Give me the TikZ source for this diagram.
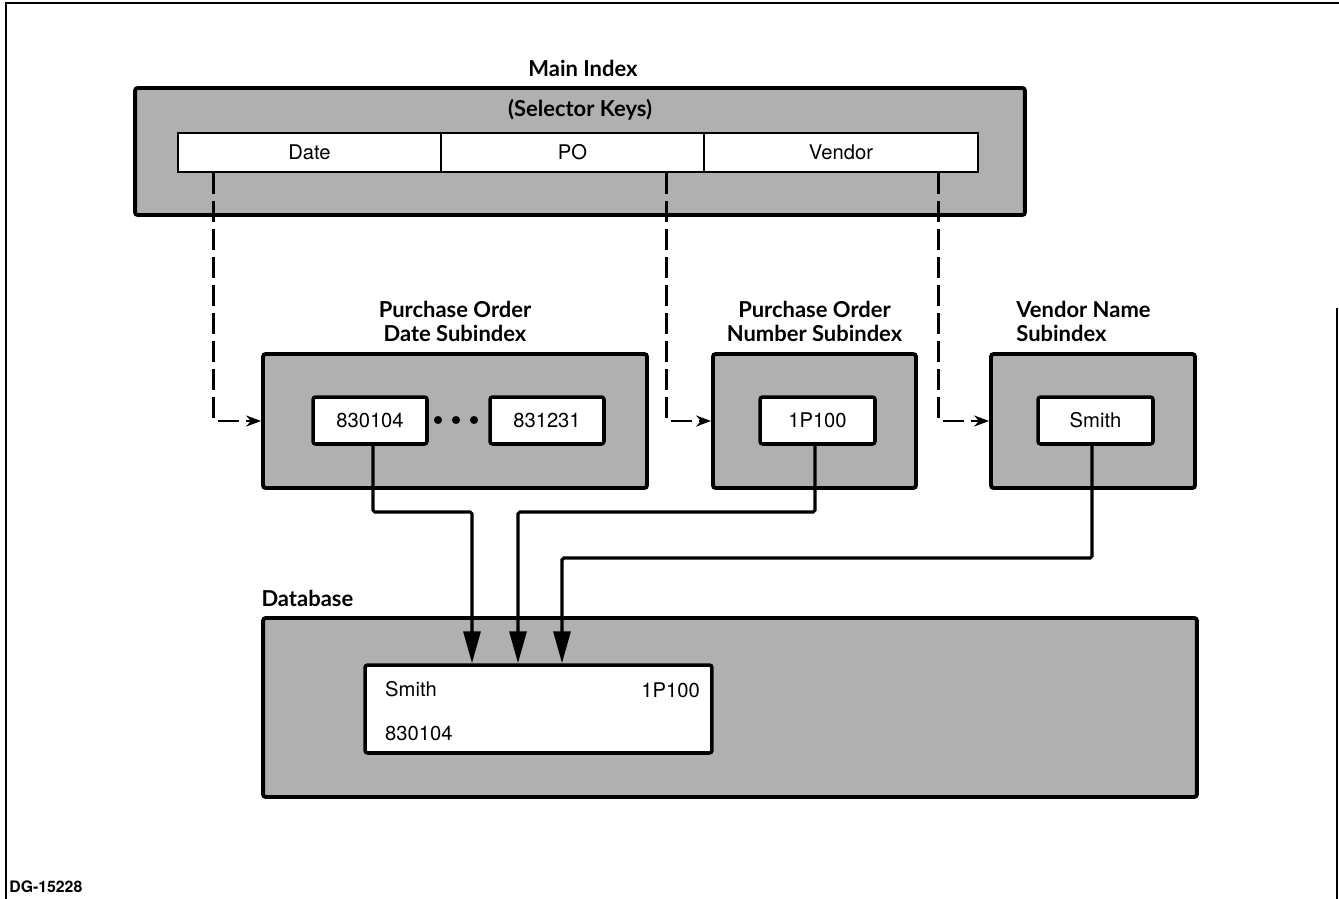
\documentclass[tikz,border=0pt]{standalone}
\usepackage{fontspec}
\setmainfont{TeX Gyre Heros}
\newfontfamily\titlefont{Lato}
\usepackage{tikz}
\usetikzlibrary{arrows.meta,positioning,calc}
\definecolor{screen}{gray}{0.69}

\begin{document}
\begin{tikzpicture}[
  x=0.02cm, y=-0.02cm,
  font=\fontsize{11.5}{13}\selectfont,
  ttl/.style={font=\titlefont\bfseries\fontsize{12.5}{13.6}\selectfont, align=center, inner sep=0pt},
  gbox/.style={draw, fill=screen, line width=2.2pt, rounded corners=1.5pt, inner sep=0pt},
  wbox/.style={draw, fill=white, line width=2pt, rounded corners=1.5pt, inner sep=0pt, minimum height=0.94cm, minimum width=2.28cm},
  keybox/.style={draw, fill=white, line width=1.6pt, inner sep=0pt, minimum height=0.78cm},
  dsh/.style={-{Stealth[length=3mm, width=2.2mm]}, line width=1.3pt, dash pattern=on 0.42cm off 0.14cm},
  big/.style={-{Triangle[length=6.4mm, width=3.4mm]}, line width=1.8pt, rounded corners=1pt},
]
\useasboundingbox (0,0) rectangle (1339,899);
% ---------------- frame ----------------
\draw[line width=0.9pt] (1339,3) -- (6,3) -- (6,899);
\draw[line width=0.9pt] (1337,308) -- (1337,899);
% ---------------- main index ----------------
\node[ttl] (mainttl) at (583,68) {Main Index};
\node[gbox, minimum width=17.8cm, minimum height=2.54cm] (main) at (580,151.5) {};
\node[ttl] (selttl) at (580,110) {(Selector Keys)};
\node[keybox, minimum width=5.26cm] (kdate) at (309.5,152.5) {Date};
\node[keybox, minimum width=5.26cm] (kpo) at (572.5,152.5) {PO};
\node[keybox, minimum width=5.48cm] (kvend) at (841,152.5) {Vendor};
% ---------------- subindexes ----------------
\node[gbox, minimum width=7.68cm, minimum height=2.68cm] (dsub) at (455,421) {};
\node[ttl, above=0.2cm of dsub] (dttl) {Purchase Order\\Date Subindex};
\node[wbox] (d1) at (370,420.5) {830104};
\node[wbox] (d2) at (547,420.5) {831231};
\foreach \xx in {438,456,474}
  \fill (\xx,420) circle (2.3pt);
\node[gbox, minimum width=4.06cm, minimum height=2.68cm] (nsub) at (814.5,421) {};
\node[ttl, above=0.2cm of nsub] (nttl) {Purchase Order\\Number Subindex};
\node[wbox, minimum width=2.3cm] (n1) at (817.5,420.5) {1P100};
\node[gbox, minimum width=4.08cm, minimum height=2.68cm] (vsub) at (1093,421) {};
\node[ttl, align=left, anchor=south west] (vttl) at ([xshift=0.54cm, yshift=0.2cm]vsub.north west) {Vendor Name\\Subindex};
\node[wbox, minimum width=2.3cm] (v1) at (1095.5,420.5) {Smith};
% ---------------- database ----------------
\node[gbox, minimum width=18.68cm, minimum height=3.58cm] (db) at (730,707.5) {};
\node[ttl, anchor=south west] (dbttl) at ([yshift=0.18cm]db.north west) {Database};
\node[wbox, minimum width=6.94cm, minimum height=1.76cm] (rec) at (538.5,709) {};
\node[anchor=west] (rname) at (379,689) {Smith};
\node[anchor=east] (rpo) at (706,690) {1P100};
\node[anchor=west] (rdate) at (379,733) {830104};
% ---------------- key pointers ----------------
\draw[dsh] ([xshift=0.74cm]kdate.south west) |- (dsub.west);
\draw[dsh] ([xshift=4.54cm]kpo.south west) |- (nsub.west);
\draw[dsh] ([xshift=4.72cm]kvend.south west) |- (vsub.west);
% ---------------- record pointers ----------------
\coordinate (b1) at (472,512);
\coordinate (b2) at (518,512);
\coordinate (b3) at (562,558);
\draw[big] ([xshift=0.06cm]d1.south) |- (b1) -- (b1 |- rec.north);
\draw[big] ([xshift=-0.05cm]n1.south) |- (b2) -- (b2 |- rec.north);
\draw[big] ([xshift=-0.07cm]v1.south) |- (b3) -- (b3 |- rec.north);
% ---------------- figure number ----------------
\node[font=\bfseries\fontsize{9}{10}\selectfont, anchor=west, inner sep=0pt] (fig) at (9,887) {DG-15228};
\end{tikzpicture}
\end{document}
